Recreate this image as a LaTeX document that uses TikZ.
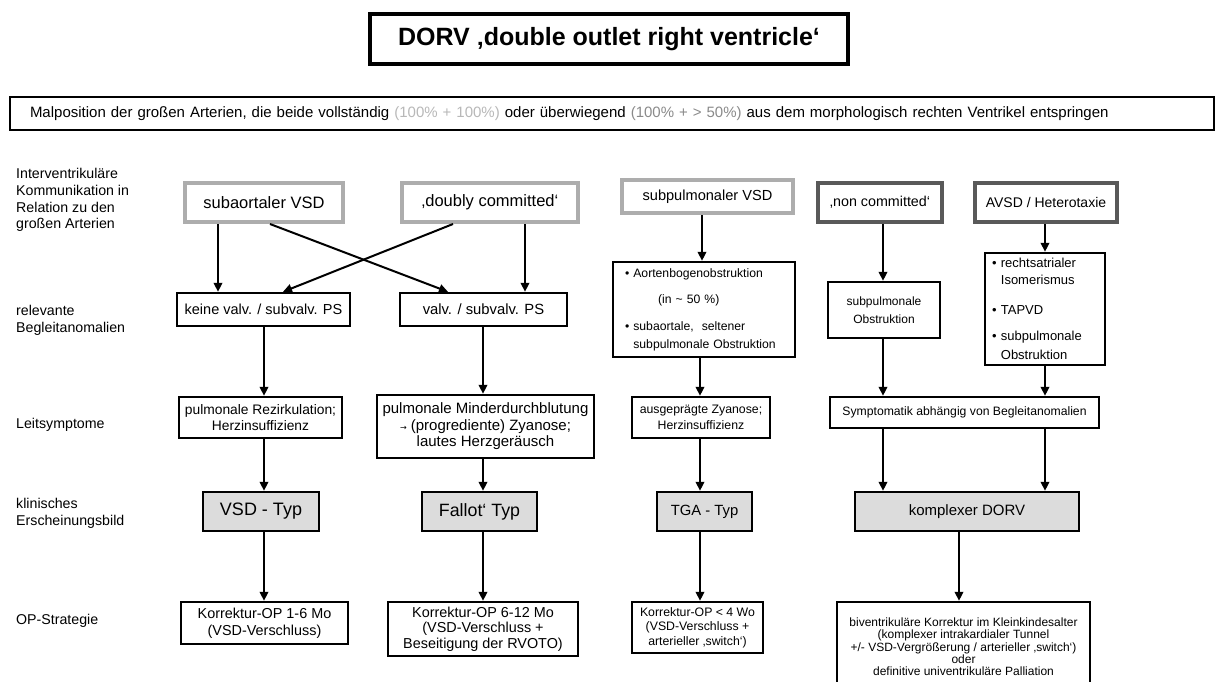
\documentclass[tikz,border=0pt]{standalone}
\usepackage{fontspec}
\setmainfont{Liberation Sans}
\newfontfamily\djv{DejaVu Sans}
\usetikzlibrary{arrows.meta}
\newcommand\fz[2]{\fontsize{#1pt}{#2pt}\selectfont}
\definecolor{lgray}{HTML}{ADADAD}
\definecolor{dgray}{HTML}{595959}
\definecolor{boxfill}{HTML}{DCDCDC}
\definecolor{pctA}{HTML}{B8B8B8}
\definecolor{pctB}{HTML}{8A8A8A}
\begin{document}
\begin{tikzpicture}[x=1pt,y=-1pt,
  box/.style={draw=black, line width=2.4pt, fill=white, inner sep=0pt, align=center, text=black},
  topl/.style={box, draw=lgray, line width=4pt},
  topd/.style={box, draw=dgray, line width=4pt},
  typ/.style={box, fill=boxfill},
  lab/.style={anchor=west, align=left, inner sep=0pt, font=\fz{14.2}{16.7}},
  arr/.style={line width=2pt, -{Triangle[length=9pt,width=8.5pt]}}]
\useasboundingbox (0,0) rectangle (1223,682);
\fill[white] (0,0) rectangle (1223,682);

% title and definition
\node[box, line width=4.5pt, minimum width=478pt, minimum height=50pt, font=\bfseries\fz{25}{28}] (title) at (609,39) {DORV ‚double outlet right ventricle‘};
\node[box, line width=2pt, minimum height=33pt, text width=1164pt, inner xsep=20pt, align=left, font=\fz{15}{18}] (def) at (612,113.5) {Malposition der großen Arterien, die beide vollständig {\color{pctA}(100\% + 100\%)} oder überwiegend {\color{pctB}(100\% + > 50\%)} aus dem morphologisch rechten Ventrikel entspringen};

% row labels
\node[lab] (l1) at (16,200) {Interventrikuläre\\Kommunikation in\\Relation zu den\\großen Arterien};
\node[lab] (l2) at (16,320.5) {relevante\\Begleitanomalien};
\node[lab] (l3) at (16,424.5) {Leitsymptome};
\node[lab] (l4) at (16,513.5) {klinisches\\Erscheinungsbild};
\node[lab] (l5) at (16,621) {OP-Strategie};

% row 1
\node[topl, minimum width=158pt, minimum height=39pt, font=\fz{16.5}{19}] (sa) at (264,202.5) {subaortaler VSD};
\node[topl, minimum width=176pt, minimum height=39pt, font=\fz{16.5}{19}] (dc) at (490,202.5) {‚doubly committed‘};
\node[topl, minimum width=171pt, minimum height=33pt, font=\fz{14.6}{17}] (sp) at (707.5,196.5) {subpulmonaler VSD};
\node[topd, minimum width=124pt, minimum height=39pt, font=\fz{14.3}{17}] (nc) at (880,202.5) {‚non committed‘};
\node[topd, minimum width=142pt, minimum height=39pt, font=\fz{14}{17}] (av) at (1046,202.5) {AVSD / Heterotaxie};

% row 2
\node[box, minimum width=173pt, minimum height=33pt, font=\fz{14.5}{17}] (kv) at (263.5,309.5) {keine valv. / subvalv. PS};
\node[box, minimum width=167pt, minimum height=33pt, font=\fz{14.8}{17}] (vv) at (483.5,309.5) {valv. / subvalv. PS};
\node[box, minimum height=95pt, text width=158pt, inner xsep=12pt, align=left, font=\fz{12.2}{18}] (ab) at (704,309.5) {\textbullet\ Aortenbogenobstruktion\\[8pt]\hspace*{33pt}(in \textasciitilde{} 50 \%)\\[9pt]\textbullet\ subaortale,\ \ seltener\\\phantom{\textbullet\ }subpulmonale Obstruktion};
\node[box, minimum width=112pt, minimum height=56pt, font=\fz{12}{18.4}] (so) at (884,310) {subpulmonale\\Obstruktion};
\node[box, minimum height=112pt, text width=106pt, inner xsep=7pt, align=left, font=\fz{13}{17}] (al) at (1045,309) {\textbullet\ rechtsatrialer\\\phantom{\textbullet\ }Isomerismus\\[13pt]\textbullet\ TAPVD\\[9pt]\textbullet\ subpulmonale\\[2pt]\phantom{\textbullet\ }Obstruktion};

% row 3
\node[box, minimum width=163pt, minimum height=41pt, font=\fz{13.8}{16}] (rz) at (260.5,417.5) {pulmonale Rezirkulation;\\Herzinsuffizienz};
\node[box, minimum width=217pt, minimum height=63pt, font=\fz{15}{16.5}] (md) at (485.5,426.5) {pulmonale Minderdurchblutung\\{\djv\fz{8}{8}→} (progrediente) Zyanose;\\lautes Herzgeräusch};
\node[box, minimum width=138pt, minimum height=41pt, font=\fz{12.3}{16}] (az) at (701,417.5) {ausgeprägte Zyanose;\\Herzinsuffizienz};
\node[box, minimum width=269pt, minimum height=31pt, font=\fz{12.2}{15}] (sy) at (964.5,412.5) {Symptomatik abhängig von Begleitanomalien};

% row 4
\node[typ, minimum width=116pt, minimum height=39pt, font=\fz{18}{20}] (vt) at (261,511.5) {VSD - Typ};
\node[typ, minimum width=115pt, minimum height=39pt, font=\fz{17.8}{20}] (ft) at (479.5,511.5) {Fallot‘ Typ};
\node[typ, minimum width=95pt, minimum height=39pt, font=\fz{14.8}{17}] (tt) at (704.5,511.5) {TGA - Typ};
\node[typ, minimum width=224pt, minimum height=39pt, font=\fz{15}{17}] (kd) at (967,511.5) {komplexer DORV};

% row 5
\node[box, minimum width=167pt, minimum height=42pt, font=\fz{14.4}{17}] (o1) at (264.5,623) {Korrektur-OP 1-6 Mo\\(VSD-Verschluss)};
\node[box, minimum width=190pt, minimum height=54pt, font=\fz{14.4}{15.5}] (o2) at (483,629) {Korrektur-OP 6-12 Mo\\(VSD-Verschluss +\\Beseitigung der RVOTO)};
\node[box, minimum width=131pt, minimum height=51pt, font=\fz{12.3}{14.5}] (o3) at (697.5,627.5) {Korrektur-OP < 4 Wo\\(VSD-Verschluss +\\arterieller ‚switch‘)};
\node[box, minimum width=253pt, minimum height=90pt, font=\fz{12}{12.3}] (o4) at (963.5,647) {biventrikuläre Korrektur im Kleinkindesalter\\(komplexer intrakardialer Tunnel\\+/- VSD-Vergrößerung / arterieller ‚switch‘)\\oder\\definitive univentrikuläre Palliation};

% column coordinates
\coordinate (c218) at (218,0);
\coordinate (c525) at (525,0);
\coordinate (c270) at (270,0);
\coordinate (c448) at (448,0);
\coordinate (c453) at (453,0);
\coordinate (c283) at (283,0);
\coordinate (c264) at (264,0);
\coordinate (c483) at (483,0);
\coordinate (c702) at (702,0);
\coordinate (c700) at (700,0);
\coordinate (c883) at (883,0);
\coordinate (c1045) at (1045,0);
\coordinate (c959) at (959,0);

% arrows
\draw[arr] (sa.south -| c218) -- (kv.north -| c218);
\draw[arr] (dc.south -| c525) -- (vv.north -| c525);
\draw[arr] (sa.south -| c270) -- (vv.north -| c448);
\draw[arr] (dc.south -| c453) -- (kv.north -| c283);
\draw[arr] (kv.south -| c264) -- (rz.north -| c264);
\draw[arr] (rz.south -| c264) -- (vt.north -| c264);
\draw[arr] (vt.south -| c264) -- (o1.north -| c264);
\draw[arr] (vv.south -| c483) -- (md.north -| c483);
\draw[arr] (md.south -| c483) -- (ft.north -| c483);
\draw[arr] (ft.south -| c483) -- (o2.north -| c483);
\draw[arr] (sp.south -| c702) -- (ab.north -| c702);
\draw[arr] (ab.south -| c700) -- (az.north -| c700);
\draw[arr] (az.south -| c700) -- (tt.north -| c700);
\draw[arr] (tt.south -| c700) -- (o3.north -| c700);
\draw[arr] (nc.south -| c883) -- (so.north -| c883);
\draw[arr] (so.south -| c883) -- (sy.north -| c883);
\draw[arr] (av.south -| c1045) -- (al.north -| c1045);
\draw[arr] (al.south -| c1045) -- (sy.north -| c1045);
\draw[arr] (sy.south -| c883) -- (kd.north -| c883);
\draw[arr] (sy.south -| c1045) -- (kd.north -| c1045);
\draw[arr] (kd.south -| c959) -- (o4.north -| c959);
\end{tikzpicture}
\end{document}
